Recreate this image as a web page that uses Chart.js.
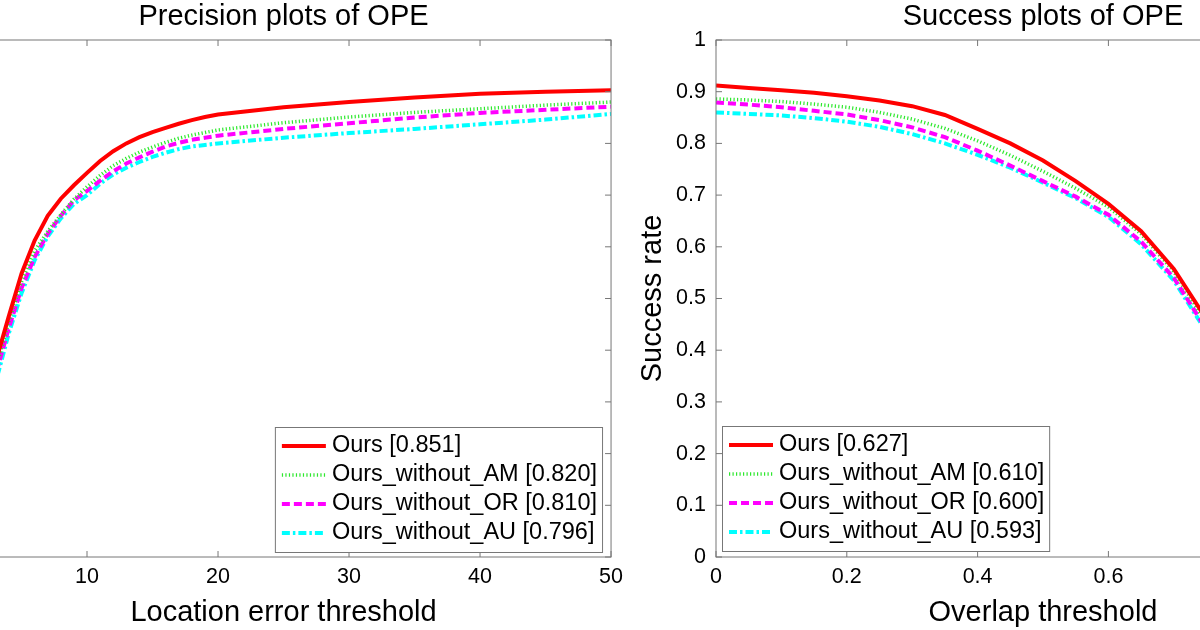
<!DOCTYPE html>
<html lang="en">
<head>
  <meta charset="UTF-8" />
  <title>Precision and Success plots of OPE</title>
  <script src="https://cdn.jsdelivr.net/npm/chart.js"></script>
  <style>
    html, body {
      margin: 0;
      padding: 0;
      background: #fff;
      width: 1200px;
      height: 630px;
      overflow: hidden;
      position: relative;
    }
    canvas { position: absolute; top: 0; }
    #precChart { left: -200px; }
    #succChart { left: 620px; }
  </style>
</head>
<body>
  <canvas id="precChart" width="830" height="630"></canvas>
  <canvas id="succChart" width="800" height="630"></canvas>
  <script>
    // series names and scores shown in the legends
    const seriesNames = ['Ours', 'Ours_without_AM', 'Ours_without_OR', 'Ours_without_AU'];
    const precScores = ['0.851', '0.820', '0.810', '0.796'];
    const succScores = ['0.627', '0.610', '0.600', '0.593'];

    // Precision plot (location error threshold, px)
    const precX = [0, 1, 2, 3, 4, 5, 6, 7, 8, 9, 10, 11, 12, 13, 14, 15, 16, 17, 18, 19, 20, 25, 30, 35, 40, 45, 50];
    const precOurs = [0.02, 0.12, 0.25, 0.375, 0.463, 0.548, 0.612, 0.660, 0.693, 0.719, 0.743, 0.766, 0.785, 0.800, 0.812, 0.822, 0.830, 0.838, 0.845, 0.851, 0.856, 0.870, 0.880, 0.889, 0.896, 0.900, 0.903];
    const precNoAM = [0.02, 0.11, 0.23, 0.360, 0.452, 0.532, 0.592, 0.630, 0.662, 0.692, 0.716, 0.738, 0.757, 0.771, 0.783, 0.793, 0.802, 0.810, 0.816, 0.821, 0.826, 0.840, 0.851, 0.860, 0.867, 0.874, 0.880];
    const precNoOR = [0.02, 0.10, 0.22, 0.350, 0.440, 0.520, 0.580, 0.625, 0.660, 0.690, 0.708, 0.728, 0.746, 0.761, 0.773, 0.784, 0.794, 0.801, 0.807, 0.811, 0.815, 0.828, 0.839, 0.850, 0.859, 0.865, 0.871];
    const precNoAU = [0.01, 0.09, 0.20, 0.335, 0.430, 0.510, 0.574, 0.620, 0.655, 0.683, 0.700, 0.722, 0.740, 0.753, 0.764, 0.774, 0.782, 0.789, 0.794, 0.797, 0.800, 0.811, 0.820, 0.828, 0.837, 0.846, 0.857];

    // Success plot (overlap threshold)
    const succX = [0, 0.05, 0.1, 0.15, 0.2, 0.25, 0.3, 0.35, 0.4, 0.45, 0.5, 0.55, 0.6, 0.65, 0.7, 0.75, 0.8, 0.85, 0.9, 0.95, 1];
    const succOurs = [0.912, 0.907, 0.903, 0.898, 0.891, 0.883, 0.872, 0.855, 0.828, 0.800, 0.767, 0.727, 0.683, 0.630, 0.557, 0.460, 0.345, 0.225, 0.115, 0.035, 0];
    const succNoAM = [0.886, 0.884, 0.881, 0.876, 0.870, 0.860, 0.847, 0.829, 0.805, 0.777, 0.746, 0.713, 0.677, 0.625, 0.552, 0.452, 0.335, 0.215, 0.105, 0.030, 0];
    const succNoOR = [0.879, 0.875, 0.870, 0.863, 0.856, 0.845, 0.831, 0.812, 0.786, 0.757, 0.727, 0.697, 0.662, 0.610, 0.540, 0.440, 0.325, 0.205, 0.100, 0.028, 0];
    const succNoAU = [0.860, 0.857, 0.854, 0.849, 0.842, 0.832, 0.818, 0.800, 0.778, 0.753, 0.724, 0.694, 0.658, 0.605, 0.535, 0.435, 0.320, 0.200, 0.095, 0.025, 0];

    // line styles (matlab r-, g:, m--, c-.)
    const lineColors = ['#ff0000', '#2ee82e', '#ff00ff', '#00ffff'];
    const lineWidths = [4, 3.5, 4, 4];
    const lineDashes = [[], [1.2, 2.3], [8, 4], [8, 3, 2.5, 3]];

    const FONT = '"Liberation Sans", Arial, sans-serif';
    Chart.defaults.font.family = FONT;
    Chart.defaults.color = '#000';

    // box round the plot area with inward ticks on all four sides
    const frame = {
      id: 'frame',
      afterDatasetsDraw(chart) {
        const { ctx, chartArea: a, scales: { x, y } } = chart;
        ctx.save();
        ctx.strokeStyle = '#777';
        ctx.lineWidth = 1;
        ctx.strokeRect(a.left, a.top, a.right - a.left, a.bottom - a.top);
        ctx.beginPath();
        x.ticks.forEach(t => {
          const px = x.getPixelForValue(t.value);
          ctx.moveTo(px, a.bottom); ctx.lineTo(px, a.bottom - 6);
          ctx.moveTo(px, a.top); ctx.lineTo(px, a.top + 6);
        });
        y.ticks.forEach(t => {
          const py = y.getPixelForValue(t.value);
          ctx.moveTo(a.left, py); ctx.lineTo(a.left + 6, py);
          ctx.moveTo(a.right, py); ctx.lineTo(a.right - 6, py);
        });
        ctx.stroke();
        ctx.restore();
      }
    };

    // matlab style legend box inside a corner of the axes
    const boxLegend = {
      id: 'boxLegend',
      afterDraw(chart, args, opts) {
        const { ctx, chartArea: a } = chart;
        const sets = chart.data.datasets;
        ctx.save();
        ctx.font = '23.5px ' + FONT;
        let tw = 0;
        sets.forEach(d => { tw = Math.max(tw, ctx.measureText(d.label).width); });
        const w = tw + 62, h = 125;
        const left = opts.corner === 'sw' ? a.left + 6 : a.right - 9 - w;
        const top = a.bottom - (opts.corner === 'sw' ? 6 : 5) - h;
        ctx.fillStyle = '#fff';
        ctx.fillRect(left, top, w, h);
        ctx.strokeStyle = '#777';
        ctx.lineWidth = 1;
        ctx.strokeRect(left + 0.5, top + 0.5, w, h);
        sets.forEach((d, i) => {
          const cy = top + 19 + i * 29;
          ctx.beginPath();
          ctx.setLineDash(d.borderDash);
          ctx.strokeStyle = d.borderColor;
          ctx.lineWidth = d.borderWidth;
          ctx.moveTo(left + 7, cy);
          ctx.lineTo(left + 51, cy);
          ctx.stroke();
          ctx.setLineDash([]);
          ctx.fillStyle = '#000';
          ctx.textBaseline = 'middle';
          ctx.fillText(d.label, left + 57, cy);
        });
        ctx.restore();
      }
    };

    // matlab prints 1 and 0 without decimals
    const tickText = v => String(+(+v).toFixed(2));

    function makeSets(xs, series, scores) {
      return series.map((vals, i) => ({
        label: seriesNames[i] + ' [' + scores[i] + ']',
        data: xs.map((v, k) => ({ x: v, y: vals[k] })),
        borderColor: lineColors[i],
        borderWidth: lineWidths[i],
        borderDash: lineDashes[i],
        borderCapStyle: 'butt',
        pointRadius: 0,
        tension: 0,
        fill: false
      }));
    }

    function makeChart(id, opt) {
      return new Chart(document.getElementById(id), {
        type: 'line',
        data: { datasets: opt.datasets },
        plugins: [frame, boxLegend],
        options: {
          responsive: false,
          animation: false,
          devicePixelRatio: 1,
          layout: { padding: { top: 0, left: 0, bottom: 0, right: opt.padRight } },
          plugins: {
            legend: { display: false },
            tooltip: { enabled: false },
            title: {
              display: true,
              text: opt.title,
              fullSize: false,
              font: { size: 29, weight: 'normal', lineHeight: 1.2 },
              padding: { top: 0, bottom: 5.2 },
              color: '#000'
            },
            boxLegend: { corner: opt.corner }
          },
          scales: {
            x: {
              type: 'linear',
              min: opt.xMin,
              max: opt.xMax,
              grid: { display: false, drawTicks: false },
              border: { display: false },
              ticks: { stepSize: opt.xStep, padding: 7, font: { size: 21.5 }, color: '#000', callback: tickText },
              title: { display: true, text: opt.xTitle, font: { size: 29 }, padding: { top: 0, bottom: 0 }, color: '#000' },
              afterFit(s) { s.height = 73; }
            },
            y: {
              type: 'linear',
              min: 0,
              max: 1,
              grid: { display: false, drawTicks: false },
              border: { display: false },
              ticks: { stepSize: 0.1, padding: 10, font: { size: 21.5 }, color: '#000', callback: tickText },
              title: { display: opt.yTitle !== '', text: opt.yTitle, font: { size: 29 }, padding: { top: 16, bottom: 0 }, color: '#000' },
              afterFit(s) { s.width = opt.yWidth; }
            }
          }
        }
      });
    }

    makeChart('precChart', {
      datasets: makeSets(precX, [precOurs, precNoAM, precNoOR, precNoAU], precScores),
      title: 'Precision plots of OPE',
      xTitle: 'Location error threshold',
      yTitle: '',
      xMin: 0, xMax: 50, xStep: 10,
      yWidth: 156, padRight: 18, corner: 'se'
    });

    makeChart('succChart', {
      datasets: makeSets(succX, [succOurs, succNoAM, succNoOR, succNoAU], succScores),
      title: 'Success plots of OPE',
      xTitle: 'Overlap threshold',
      yTitle: 'Success rate',
      xMin: 0, xMax: 1, xStep: 0.2,
      yWidth: 96, padRight: 50, corner: 'sw'
    });
  </script>
</body>
</html>
